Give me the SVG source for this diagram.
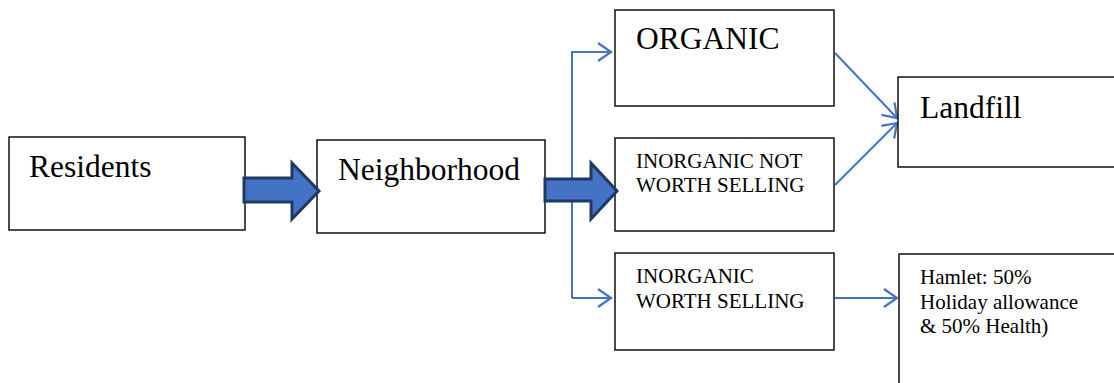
<svg xmlns="http://www.w3.org/2000/svg" width="1114" height="383" viewBox="0 0 1114 383">
<style>
.box{fill:#fff;stroke:#000;stroke-width:1.4}
.big{font-family:"Liberation Serif","Times New Roman",serif;font-size:31.5px;fill:#000}
.small{font-family:"Liberation Serif","Times New Roman",serif;font-size:21px;fill:#000}
.ln{fill:none;stroke:#4472C4;stroke-width:2}
.blk{fill:#4472C4;stroke:#203864;stroke-width:3;stroke-linejoin:miter}
</style>
<defs>
<marker id="ah" viewBox="0 0 16 20" refX="14" refY="10" markerWidth="16" markerHeight="20" markerUnits="userSpaceOnUse" orient="auto">
<path d="M1,1 L14,10 L1,19" fill="none" stroke="#4472C4" stroke-width="2.2"/>
</marker>
</defs>
<g id="connectors">
<path class="ln" d="M572,298 V52 H611" marker-end="url(#ah)"/>
<path class="ln" d="M572,298 H611" marker-end="url(#ah)"/>
<path class="ln" d="M835,53 L897,118" marker-end="url(#ah)"/>
<path class="ln" d="M835,185 L897,123" marker-end="url(#ah)"/>
<path class="ln" d="M835,298 H897" marker-end="url(#ah)"/>
</g>
<g id="residents"><rect class="box" x="9" y="137" width="236" height="93"/><text class="big" x="29" y="177">Residents</text></g>
<g id="neighborhood"><rect class="box" x="317" y="140" width="228" height="93"/><text class="big" x="338" y="180">Neighborhood</text></g>
<g id="organic"><rect class="box" x="615" y="10" width="219" height="96"/><text class="big" x="636" y="49">ORGANIC</text></g>
<g id="inorganic-not"><rect class="box" x="615" y="138" width="219" height="93"/><text class="small" x="636" y="168">INORGANIC NOT</text><text class="small" x="636" y="192">WORTH SELLING</text></g>
<g id="inorganic-worth"><rect class="box" x="615" y="253" width="219" height="97"/><text class="small" x="636" y="283">INORGANIC</text><text class="small" x="636" y="308">WORTH SELLING</text></g>
<g id="landfill"><rect class="box" x="898" y="77" width="230" height="90"/><text class="big" x="920" y="118">Landfill</text></g>
<g id="hamlet"><rect class="box" x="899" y="254" width="230" height="140"/><text class="small" x="920" y="284">Hamlet: 50%</text><text class="small" x="920" y="309">Holiday allowance</text><text class="small" x="920" y="333">&amp; 50% Health)</text></g>
<g id="block-arrows">
<path class="blk" d="M244,178 H292 V163 L319,191 L292,219 V202 H244 Z"/>
<path class="blk" d="M545,179 H591 V163 L617,191 L591,219 V201 H545 Z"/>
</g>
</svg>
